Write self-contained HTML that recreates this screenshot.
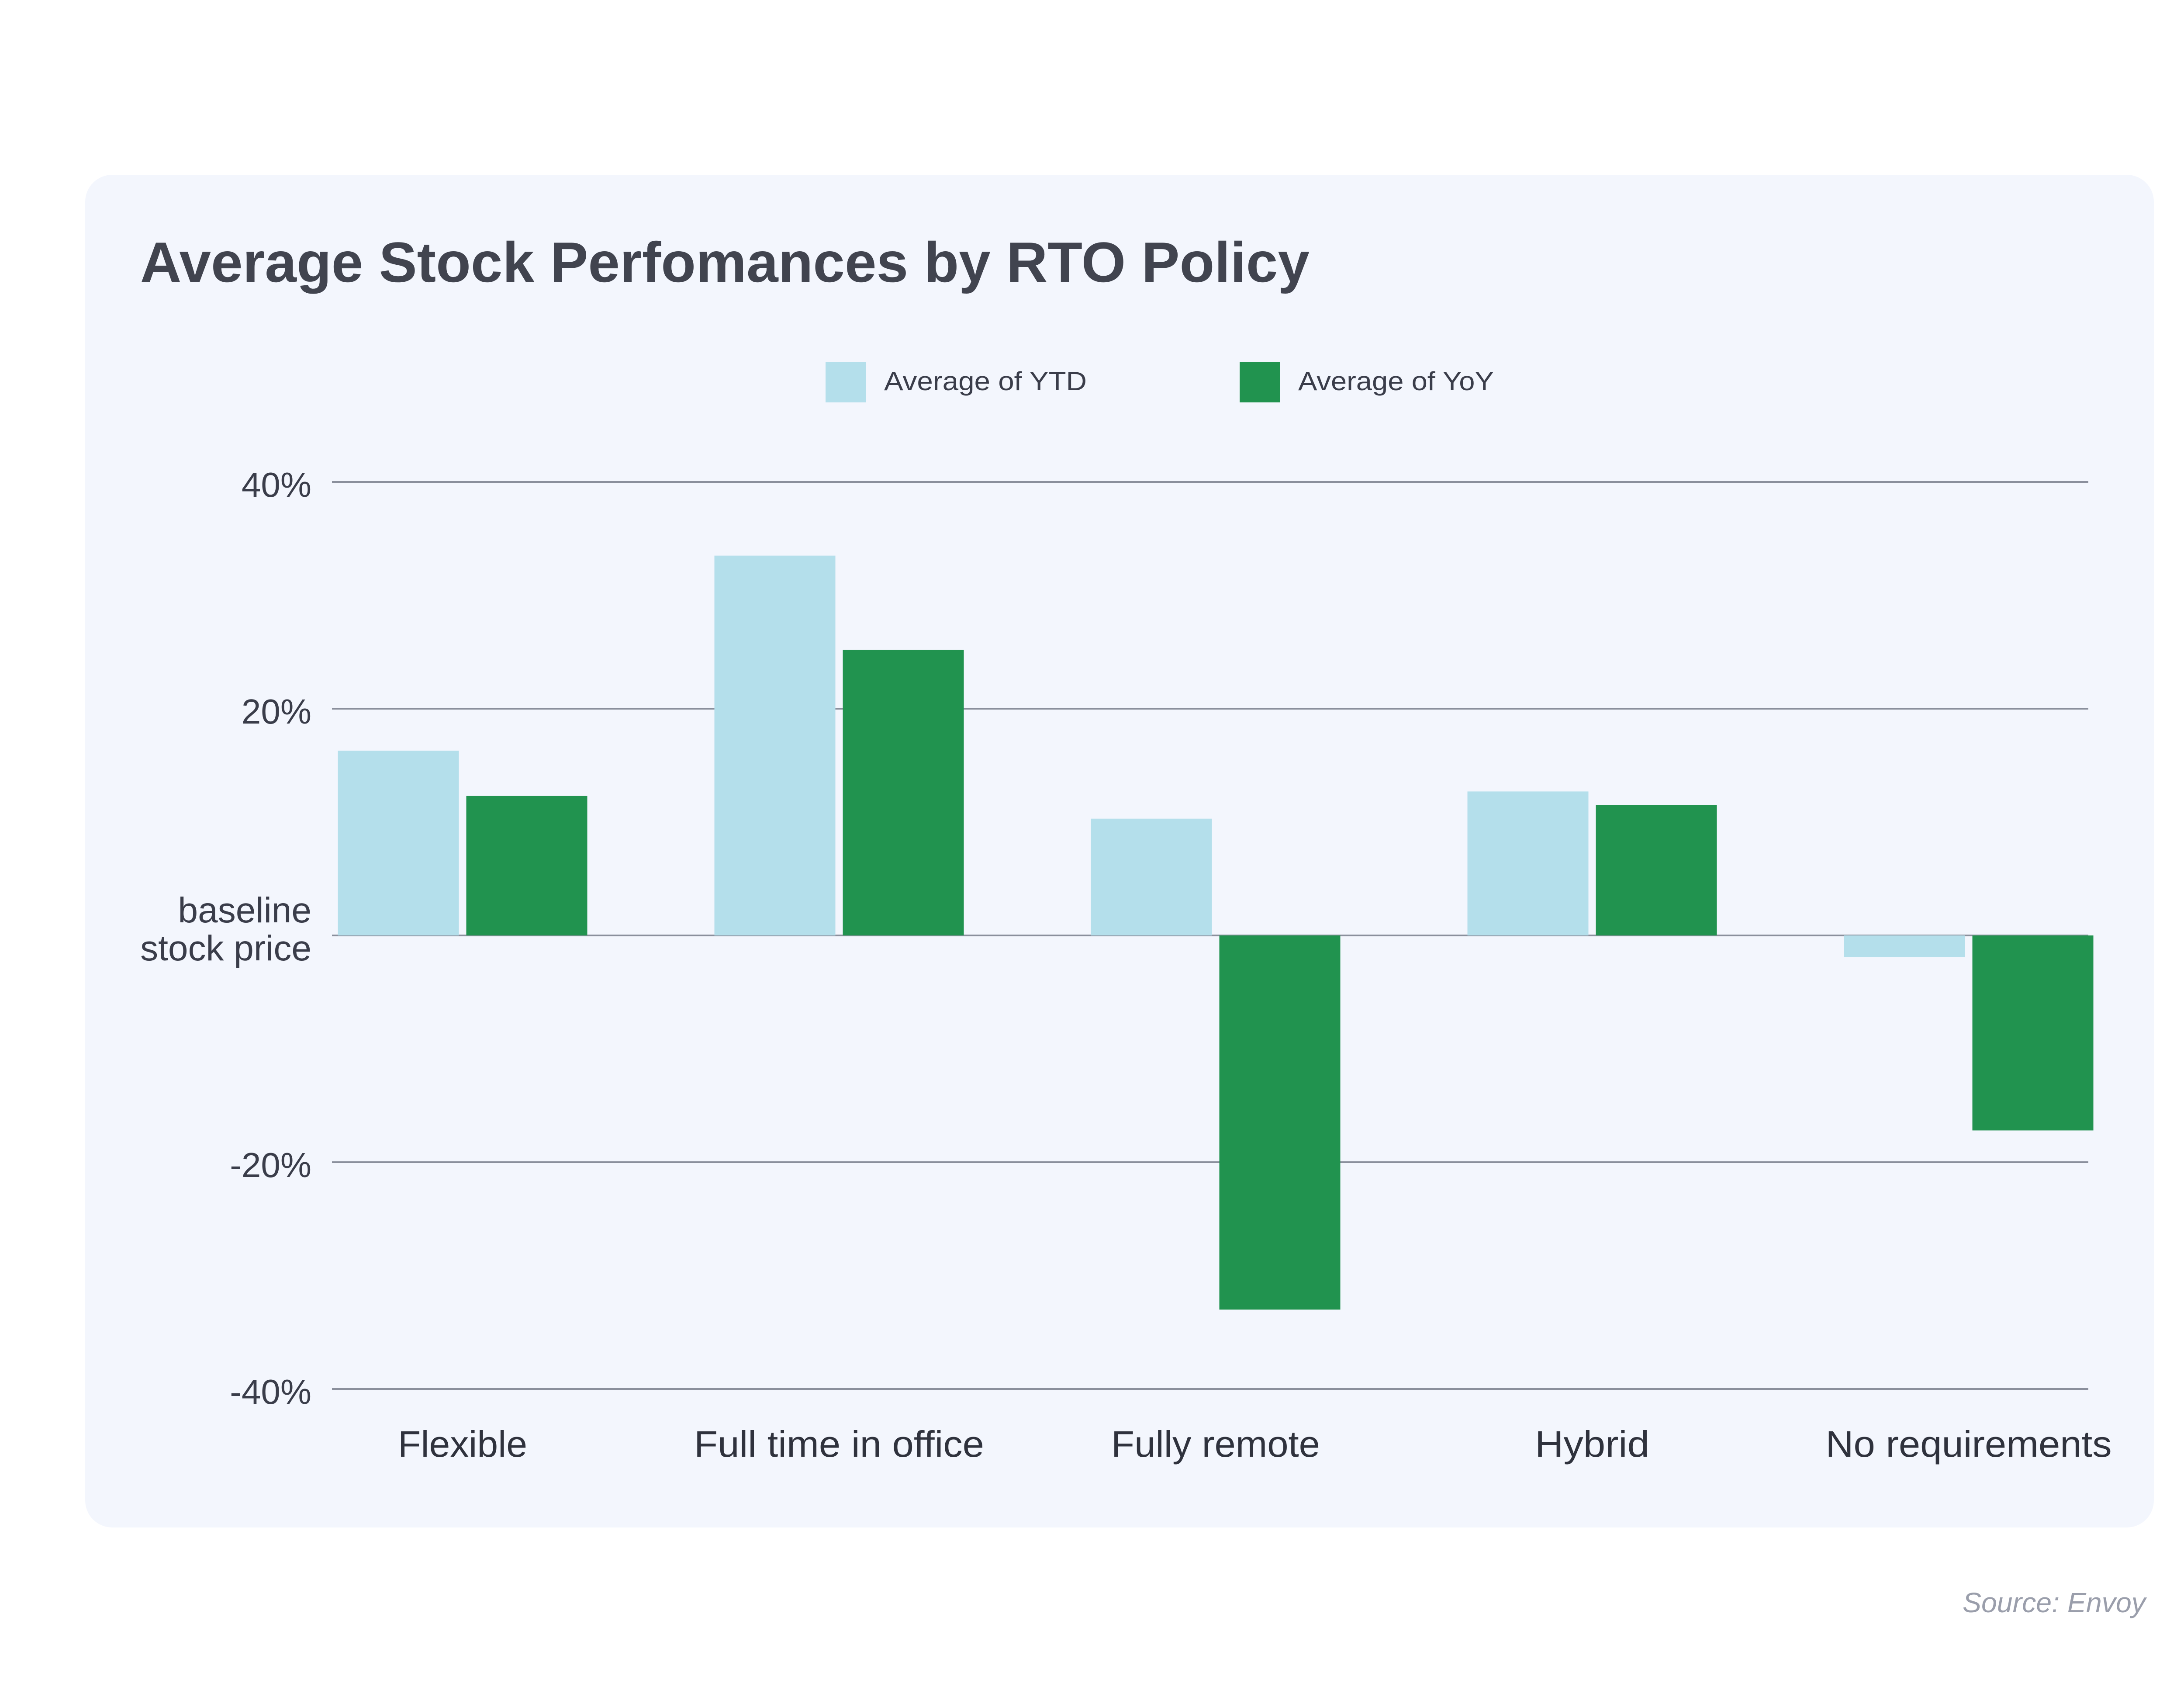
<!DOCTYPE html>
<html><head><meta charset="utf-8">
<style>
html,body{margin:0;padding:0;background:#fff;}
svg{display:block;}
text{font-family:"Liberation Sans",sans-serif;}
</style></head>
<body>
<svg id="chart" width="5101" height="3900" viewBox="0 0 5101 3900" xmlns="http://www.w3.org/2000/svg">
  <rect x="0" y="0" width="5101" height="3900" fill="#ffffff"/>
  <rect x="195" y="400" width="4736" height="3096" rx="62" fill="#f3f6fd"/>
  <text x="321" y="645" font-size="130" font-weight="bold" fill="#41444f" textLength="2677" lengthAdjust="spacingAndGlyphs">Average Stock Perfomances by RTO Policy</text>
  <g>
    <rect x="1890" y="829" width="92" height="92" fill="#b4dfeb"/>
    <text x="2024" y="893" font-size="60" fill="#3a3d4a" textLength="464" lengthAdjust="spacingAndGlyphs">Average of YTD</text>
    <rect x="2838" y="829" width="92" height="92" fill="#21934f"/>
    <text x="2972" y="893" font-size="60" fill="#3a3d4a" textLength="448" lengthAdjust="spacingAndGlyphs">Average of YoY</text>
  </g>
  <g id="grid"></g>
  <g id="bars"></g>
  <g id="labels"></g>
  <text x="4912" y="3690" font-size="64" font-style="italic" fill="#9a9eab" text-anchor="end" textLength="419" lengthAdjust="spacingAndGlyphs">Source: Envoy</text>
</svg>
<script>
const categories = ["Flexible", "Full time in office", "Fully remote", "Hybrid", "No requirements"];
const ytdValues = [16.3, 33.5, 10.3, 12.7, -1.9];
const yoyValues = [12.3, 25.2, -33.0, 11.5, -17.2];
const tickValues = [40, 20, 0, -20, -40];
const tickLabels = ["40%", "20%", "", "-20%", "-40%"];

const NS = "http://www.w3.org/2000/svg";
const zeroY = 2141, pxPerPct = 25.95;
function yScale(v){ return zeroY - v * pxPerPct; }
const firstCenter = 1059, step = 862, barW = 277, gap = 17;
function xCenter(i){ return firstCenter + i * step; }
const gridX1 = 760, gridX2 = 4781;
const labelWidths = [296, 664, 478, 262, 655];

function mk(tag, attrs){
  const el = document.createElementNS(NS, tag);
  for (const k in attrs) el.setAttribute(k, attrs[k]);
  return el;
}
const grid = document.getElementById("grid");
const bars = document.getElementById("bars");
const labels = document.getElementById("labels");

tickValues.forEach((t, i) => {
  const y = yScale(t);
  const line = mk("line", {x1: gridX1, x2: gridX2, y1: y, y2: y, stroke: "#8a8f9c", "stroke-width": 4});
  
  
  grid.appendChild(line);
  if (tickLabels[i]) {
    const tx = mk("text", {x: 713, y: y + 34, "font-size": 80, fill: "#3a3d4a", "text-anchor": "end"});
    
    
    tx.textContent = tickLabels[i];
    labels.appendChild(tx);
  }
});
const b1 = mk("text", {x: 713, y: zeroY - 30, "font-size": 82, fill: "#3a3d4a", "text-anchor": "end"});


b1.textContent = "baseline";
labels.appendChild(b1);
const b2 = mk("text", {x: 713, y: zeroY + 57, "font-size": 82, fill: "#3a3d4a", "text-anchor": "end"});


b2.textContent = "stock price";
labels.appendChild(b2);

function drawBar(v, x, color, name){
  const y0 = yScale(0), y1 = yScale(v);
  const r = mk("rect", {x: x, y: Math.min(y0, y1), width: barW, height: Math.abs(y1 - y0), fill: color});
  
  
  bars.appendChild(r);
}
categories.forEach((c, i) => {
  const cx = xCenter(i);
  drawBar(ytdValues[i], cx - gap/2 - barW, "#b4dfeb", "bar-ytd");
  drawBar(yoyValues[i], cx + gap/2, "#21934f", "bar-yoy");
  const t = mk("text", {x: cx, y: 3334, "font-size": 84, fill: "#2f323d", "text-anchor": "middle", textLength: labelWidths[i], lengthAdjust: "spacingAndGlyphs"});
  
  
  t.textContent = c;
  labels.appendChild(t);
});
</script>
</body></html>
